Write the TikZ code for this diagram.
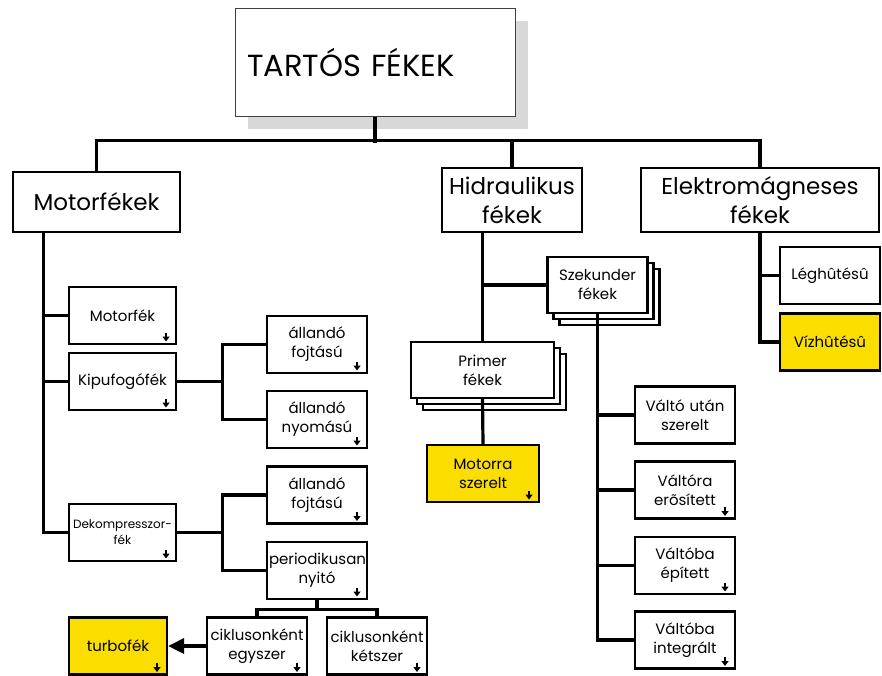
\documentclass[tikz,border=0pt]{standalone}
\usepackage{fontspec}
\setmainfont{Poppins}
\usetikzlibrary{arrows.meta, shadows}
\definecolor{brakeyellow}{RGB}{250,222,0}
\definecolor{shadowgray}{RGB}{216,216,216}

\begin{document}
\begin{tikzpicture}[
  x=1pt, y=-1pt,
  every node/.style={font=\fontsize{15}{19}\selectfont, align=center, inner sep=2pt},
  box/.style={rectangle, draw, line width=2.2pt, minimum width=100pt, minimum height=57pt, text width=96pt, fill=white},
  yellowbox/.style={box, fill=brakeyellow},
  mainbox/.style={rectangle, draw, line width=2.8pt, minimum height=64pt, fill=white, font=\fontsize{23}{29}\selectfont},
  titlebox/.style={rectangle, draw=black!75, line width=1pt, fill=white, minimum width=280pt, minimum height=108pt, text width=256pt, align=left, font=\fontsize{30.5}{36}\selectfont, drop shadow={shadow xshift=13pt, shadow yshift=-13pt, fill=shadowgray, opacity=1}},
  stackbox/.style={box, copy shadow={shadow xshift=12pt, shadow yshift=-12pt, line width=2.2pt}, copy shadow={shadow xshift=6pt, shadow yshift=-6pt, line width=2.2pt}},
  sarrow/.style={path picture={\draw[line width=1.4pt, {Triangle[length=5pt, width=7pt]}-] ([xshift=-10pt, yshift=2.5pt]path picture bounding box.south east) -- ++(0pt,9pt);}},
  conn/.style={line width=3.2pt},
  arr/.style={-{Triangle[length=16pt, width=15pt]}, line width=3.2pt}
]
\useasboundingbox (0,0) rectangle (882,675);

% Nodes
\node[titlebox] (title) at (375,62) {TARTÓS FÉKEK};

\node[mainbox, minimum width=167pt, minimum height=60pt] (motor) at (96.5,202) {Motorfékek};
\node[mainbox, minimum width=140pt] (hidr) at (512,200) {Hidraulikus\\fékek};
\node[mainbox, minimum width=238pt] (elektro) at (760,200) {Elektromágneses\\fékek};

\node[box, sarrow, minimum width=107pt, text width=103pt] (motorfek) at (122.5,315.5) {Motorfék};
\node[box, sarrow, minimum width=107pt, text width=103pt] (kipufogo) at (122.5,381.5) {Kipufogófék};
\node[box, sarrow, minimum width=107pt, text width=103pt, font=\fontsize{12}{16}\selectfont] (dekomp) at (122.5,532.5) {Dekompresszor-\\fék};

\node[box, sarrow] (fojtA)  at (317,344.5) {állandó\\fojtású};
\node[box, sarrow] (nyomas) at (317,419.5) {állandó\\nyomású};
\node[box, sarrow] (fojtB)  at (317,495) {állandó\\fojtású};
\node[box, sarrow] (period) at (317,570.5) {periodikusan\\nyitó};
\node[box, sarrow] (ciklA)  at (257,646) {ciklusonként\\egyszer};
\node[box, sarrow] (ciklB)  at (377,646) {ciklusonként\\kétszer};
\node[yellowbox, sarrow, minimum width=98pt, text width=94pt] (turbo) at (118,646) {turbofék};

\node[stackbox, minimum width=99pt, minimum height=56pt] (szek) at (597.5,285) {Szekunder\\fékek};
\node[stackbox, minimum width=143pt, minimum height=56pt] (primer) at (482.5,370) {Primer\\fékek};
\node[yellowbox, sarrow, minimum width=112pt] (motorra) at (483,473.5) {Motorra\\szerelt};

\node[box]        (valtoA) at (685,415) {Váltó után\\szerelt};
\node[box, sarrow] (valtoB) at (685,490) {Váltóra\\erõsített};
\node[box, sarrow] (valtoC) at (685,565.5) {Váltóba\\épített};
\node[box, sarrow] (valtoD) at (685,640) {Váltóba\\integrált};

\node[box]       (leg) at (830,275.5) {Léghûtésû};
\node[yellowbox] (viz) at (830,342) {Vízhûtésû};

% Edges
\draw[conn] (title.south) -- ++(0,26);
\draw[conn] (motor.north) -- ++(0,-30) -| (elektro.north);
\draw[conn] (hidr.north) -- ++(0,-26);

\coordinate (mtrunk) at ([xshift=32pt]motor.south west);
\draw[conn] (mtrunk) |- (motorfek.west);
\draw[conn] (mtrunk) |- (kipufogo.west);
\draw[conn] (mtrunk) |- (dekomp.west);
\draw[conn] (kipufogo.east) -- ++(45,0) coordinate (kbranch);
\draw[conn] (kbranch) |- (fojtA.west);
\draw[conn] (kbranch) |- (nyomas.west);
\draw[conn] (dekomp.east) -- ++(45,0) coordinate (dbranch);
\draw[conn] (dbranch) |- (fojtB.west);
\draw[conn] (dbranch) |- (period.west);
\draw[conn] (period.south) -- ++(0,9) coordinate (pbranch);
\draw[conn] (pbranch) -| (ciklA.north);
\draw[conn] (pbranch) -| (ciklB.north);
\draw[arr] (ciklA.west) -- (turbo.east);

\draw[conn] (hidr.south -| primer.north) -- (primer.north);
\draw[conn] (szek.west) -- (szek.west -| primer.north);
\draw[conn] (primer.south) -- (motorra.north);
\draw[conn] (szek.south) |- (valtoA.west);
\draw[conn] (szek.south) |- (valtoB.west);
\draw[conn] (szek.south) |- (valtoC.west);
\draw[conn] (szek.south) |- (valtoD.west);

\draw[conn] (elektro.south) |- (leg.west);
\draw[conn] (elektro.south) |- (viz.west);

\end{tikzpicture}
\end{document}
